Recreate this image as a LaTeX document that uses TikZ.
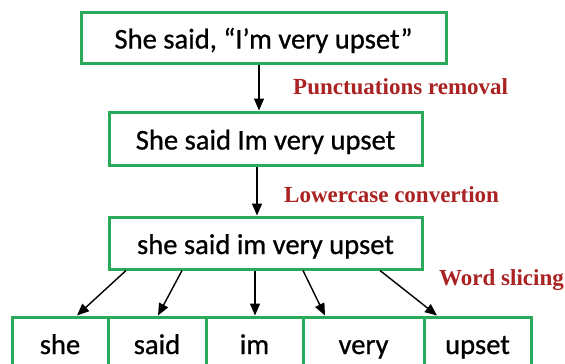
\documentclass[tikz,border=0pt]{standalone}
\usepackage{fontspec}
\setmainfont{Carlito}[FakeBold=0.8]
\newfontfamily\labfont{Liberation Serif}
\usetikzlibrary{arrows.meta}
\definecolor{boxgreen}{RGB}{44,170,92}
\definecolor{labred}{RGB}{170,34,34}
\tikzset{
  gbox/.style={draw=boxgreen, line width=3pt, inner sep=0pt, text height=25.7pt, text depth=3.7pt, font=\fontsize{28.6}{32}\selectfont},
  cell/.style={gbox, minimum height=52pt},
  lab/.style={text=labred, font=\labfont\bfseries\fontsize{23}{26}\selectfont, anchor=west, inner sep=0pt},
  arr/.style={-{Triangle[width=10pt,length=12pt]}, line width=1.4pt, black}
}
\begin{document}
\begin{tikzpicture}[x=1pt,y=1pt]
\useasboundingbox (0,0) rectangle (565,-364);
\node[gbox, minimum width=365pt, minimum height=51pt] (b1) at (263.5,-37.5) {She said, “I’m very upset”};
\node[gbox, minimum width=313pt, minimum height=53pt] (b2) at (265.5,-138.5) {She said Im very upset};
\node[gbox, minimum width=313pt, minimum height=52pt] (b3) at (265.5,-243) {she said im very upset};
\node[cell, minimum width=96pt] (w1) at (60,-343) {she};
\node[cell, minimum width=98pt] (w2) at (157,-343) {said};
\node[cell, minimum width=97pt] (w3) at (254.5,-343) {im};
\node[cell, minimum width=121pt] (w4) at (363.5,-343) {very};
\node[cell, minimum width=107pt] (w5) at (477.5,-343) {upset};
\node[lab] (l1) at (293,-87) {Punctuations removal};
\node[lab] (l2) at (284,-195) {Lowercase convertion};
\node[lab] (l3) at (439,-280) {Word slicing};
\coordinate (a1) at (259,0);
\coordinate (a2) at (257,0);
\draw[arr] (b1.south -| a1) -- (b2.north -| a1);
\draw[arr] (b2.south -| a2) -- (b3.north -| a2);
\coordinate (s1) at (126,0); \coordinate (t1) at (77,0);
\coordinate (s2) at (182,0); \coordinate (t2) at (158,0);
\coordinate (s3) at (255,0); \coordinate (t3) at (255,0);
\coordinate (s4) at (303,0); \coordinate (t4) at (325,0);
\coordinate (s5) at (380,0); \coordinate (t5) at (437,0);
\draw[arr] (b3.south -| s1) -- (w1.north -| t1);
\draw[arr] (b3.south -| s2) -- (w2.north -| t2);
\draw[arr] (b3.south -| s3) -- (w3.north -| t3);
\draw[arr] (b3.south -| s4) -- (w4.north -| t4);
\draw[arr] (b3.south -| s5) -- (w5.north -| t5);
\end{tikzpicture}
\end{document}
